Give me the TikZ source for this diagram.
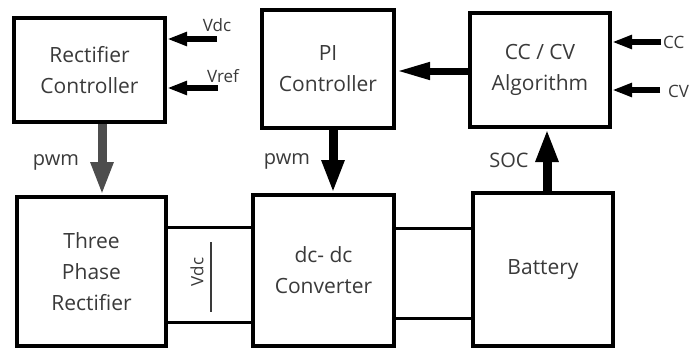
\documentclass[tikz,border=0pt]{standalone}
\usepackage{fontspec}
\setmainfont{Open Sans}
\usetikzlibrary{arrows.meta}
\definecolor{txt}{HTML}{3A3A3A}
\definecolor{pwmgray}{HTML}{4D4D4D}
\begin{document}
\begin{tikzpicture}[x=1pt,y=-1pt,
  blk/.style={draw=black,line width=4pt,fill=white,inner sep=0pt,align=center,text=txt,
    font=\fontsize{21}{31}\selectfont},
  lbl/.style={text=txt,inner sep=0pt,font=\fontsize{20}{24}\selectfont},
  slbl/.style={text=txt,inner sep=0pt,font=\fontsize{17}{20}\selectfont},
  bigarrow/.style={line width=9pt,-{Triangle[length=33pt,width=21pt]}},
  midarrow/.style={line width=7pt,-{Triangle[length=34pt,width=16pt]}},
  inarrow/.style={line width=5.5pt,-{Triangle[length=20pt,width=13pt]}},
  wire/.style={line width=3pt}]
\useasboundingbox (0,0) rectangle (689,348);
\fill[white] (0,0) rectangle (689,348);
% top row
\node[blk,minimum width=151pt,minimum height=104pt] (RC) at (89.5,70) {Rectifier\\Controller};
\node[blk,minimum width=132pt,minimum height=118pt] (PI) at (328,69) {PI\\Controller};
\node[blk,minimum width=140pt,minimum height=114pt] (CA) at (540,70) {CC / CV\\Algorithm};
% bottom row
\node[blk,minimum width=149pt,minimum height=149pt] (TP) at (91.5,271.5) {Three\\Phase\\Rectifier};
\node[blk,minimum width=141pt,minimum height=151pt] (DC) at (323.5,270.5) {dc- dc\\Converter};
\node[blk,minimum width=140pt,minimum height=153pt] (BT) at (543,269.5) {Battery};
% wires between bottom boxes
\draw[wire] (TP.east |- 0,227) -- (DC.west |- 0,227);
\draw[wire] (TP.east |- 0,322) -- (DC.west |- 0,322);
\draw[wire] (DC.east |- 0,228) -- (BT.west |- 0,228);
\draw[wire] (DC.east |- 0,318) -- (BT.west |- 0,318);
% Vdc measurement
\coordinate (vt) at (211,242);
\coordinate (vb) at (211,312);
\draw[line width=1.2pt,draw=txt] (vt) -- (vb);
\node[slbl,rotate=90] (vdcm) at (197,272) {Vdc};
% vertical arrows
\draw[bigarrow,draw=pwmgray] ([xshift=12.5pt]RC.south) -- ([xshift=10.5pt]TP.north);
\node[lbl] (pwm1) at (56,162) {pwm};
\draw[bigarrow] ([xshift=5pt]PI.south) -- ([xshift=9.5pt]DC.north);
\node[lbl] (pwm2) at (287,161) {pwm};
\draw[bigarrow] ([xshift=4pt]BT.north) -- ([xshift=7pt]CA.south);
\node[lbl] (soc) at (509,160) {SOC};
% CC/CV -> PI
\draw[midarrow] (CA.west |- 0,71) -- (PI.east |- 0,71);
% inputs to rectifier controller
\coordinate (vdcin) at (217,39);
\coordinate (vrefin) at (218,88);
\draw[inarrow] (vdcin) -- (RC.east |- vdcin);
\draw[inarrow] (vrefin) -- (RC.east |- vrefin);
\node[slbl] (vdcl) at (217,25) {Vdc};
\node[slbl] (vrefl) at (223,76) {Vref};
% inputs to CC/CV
\coordinate (ccin) at (661,42);
\coordinate (cvin) at (660,90);
\draw[inarrow] (ccin) -- (CA.east |- ccin);
\draw[inarrow] (cvin) -- (CA.east |- cvin);
\node[slbl,anchor=west] (ccl) at (663,42) {CC};
\node[slbl,anchor=west] (cvl) at (668,91) {CV};
\end{tikzpicture}
\end{document}
